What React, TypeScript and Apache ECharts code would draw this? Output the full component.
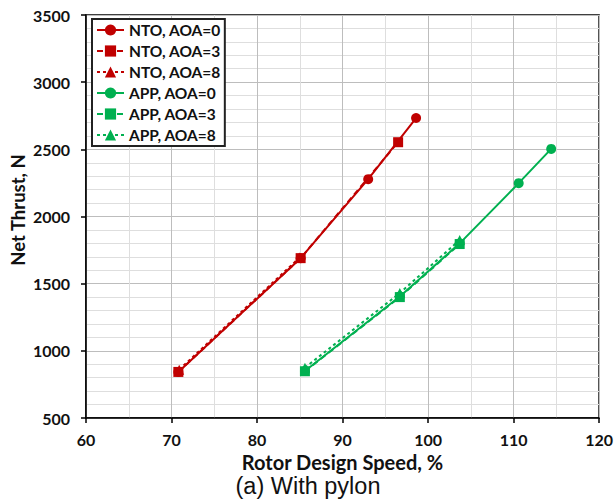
import React, { useEffect, useRef } from "react";
import * as echarts from "echarts";

const seriesNames = ["NTO, AOA=0", "NTO, AOA=3", "NTO, AOA=8", "APP, AOA=0", "APP, AOA=3", "APP, AOA=8"];
const nto0: [number, number][] = [[70.8, 843], [85.1, 1690], [93.0, 2278], [98.6, 2733]];
const nto3: [number, number][] = [[70.8, 843], [85.1, 1690], [96.5, 2553]];
const nto8: [number, number][] = [[70.9, 860], [85.0, 1695]];
const app0: [number, number][] = [[85.6, 850], [96.7, 1405], [103.7, 1800], [110.6, 2248], [114.4, 2503]];
const app3: [number, number][] = [[85.6, 848], [96.7, 1400], [103.7, 1795]];
const app8: [number, number][] = [[85.6, 875], [96.7, 1430], [103.7, 1825]];
const xTicks = [60, 70, 80, 90, 100, 110, 120];
const yTicks = [500, 1000, 1500, 2000, 2500, 3000, 3500];

const RED = "#C00000";
const GREEN = "#00B050";
const FONT = "Lato";

export default function App() {
  const ref = useRef<HTMLDivElement>(null);
  useEffect(() => {
    if (!ref.current) return;
    const chart = echarts.init(ref.current, undefined, { renderer: "svg" });
    const mk = (name: string, data: [number, number][], color: string, symbol: string, type: any, size: number) => ({
      name,
      type: "line",
      data,
      symbol,
      symbolSize: size,
      itemStyle: { color },
      lineStyle: { color, width: 2, type },
      z: 3,
    });
    chart.setOption({
      animation: false,
      textStyle: { fontFamily: FONT },
      grid: { left: 86, right: 14, top: 15, bottom: 82, show: true, borderColor: "#000", borderWidth: 1.5 },
      legend: {
        orient: "vertical",
        left: 92,
        top: 19,
        padding: [3, 4, 3, 4],
        itemWidth: 27,
        itemHeight: 14,
        itemGap: 5,
        backgroundColor: "#fff",
        borderColor: "#222",
        borderWidth: 2,
        borderRadius: 0,
        textStyle: { fontFamily: FONT, fontWeight: "bold", fontSize: 15.5, color: "#111" },
        data: seriesNames,
      },
      xAxis: {
        type: "value",
        min: xTicks[0],
        max: xTicks[xTicks.length - 1],
        interval: 10,
        name: "Rotor Design Speed, %",
        nameLocation: "middle",
        nameGap: 31,
        nameTextStyle: { fontFamily: FONT, fontWeight: "bold", fontSize: 20, color: "#111" },
        axisLine: { show: true, lineStyle: { color: "#000", width: 1.5 } },
        axisTick: { show: true, inside: false, length: 5, lineStyle: { color: "#000", width: 1.5 } },
        axisLabel: { margin: 13, fontFamily: FONT, fontWeight: "bold", fontSize: 16, color: "#111" },
        splitLine: { show: true, lineStyle: { color: "#bdbdbd", width: 1 } },
        minorTick: { show: false, splitNumber: 2 },
        minorSplitLine: { show: true, lineStyle: { color: "#dedede", width: 1 } },
      },
      yAxis: {
        type: "value",
        min: yTicks[0],
        max: yTicks[yTicks.length - 1],
        interval: 500,
        axisLine: { show: true, lineStyle: { color: "#000", width: 1.5 } },
        axisTick: { show: true, inside: false, length: 5, lineStyle: { color: "#000", width: 1.5 } },
        axisLabel: {
          margin: 16,
          fontFamily: FONT,
          fontWeight: "bold",
          fontSize: 16,
          color: "#111",
          formatter: (v: number) => String(v),
        },
        splitLine: { show: true, lineStyle: { color: "#bdbdbd", width: 1 } },
        minorTick: { show: false, splitNumber: 5 },
        minorSplitLine: { show: true, lineStyle: { color: "#dedede", width: 1 } },
      },
      graphic: [
        {
          type: "text",
          x: 18,
          y: 210,
          rotation: Math.PI / 2,
          style: {
            text: "Net Thrust, N",
            fontFamily: FONT,
            fontWeight: "bold",
            fontSize: 18.5,
            fill: "#111",
            align: "center",
            verticalAlign: "middle",
          },
        },
        {
          type: "text",
          left: "center",
          top: 474,
          style: { text: "(a) With pylon", fontFamily: "Liberation Sans", fontSize: 23.5, fill: "#111" },
        },
      ],
      series: [
        mk(seriesNames[0], nto0, RED, "circle", "solid", 10),
        mk(seriesNames[1], nto3, RED, "rect", [6, 4], 10),
        mk(seriesNames[2], nto8, RED, "triangle", [3, 3], 10),
        mk(seriesNames[3], app0, GREEN, "circle", "solid", 10),
        mk(seriesNames[4], app3, GREEN, "rect", [6, 4], 10),
        mk(seriesNames[5], app8, GREEN, "triangle", [3, 3], 10),
      ],
    });
    return () => chart.dispose();
  }, []);
  return <div ref={ref} style={{ width: 616, height: 500, position: "absolute", left: 0, top: 0 }} />;
}
